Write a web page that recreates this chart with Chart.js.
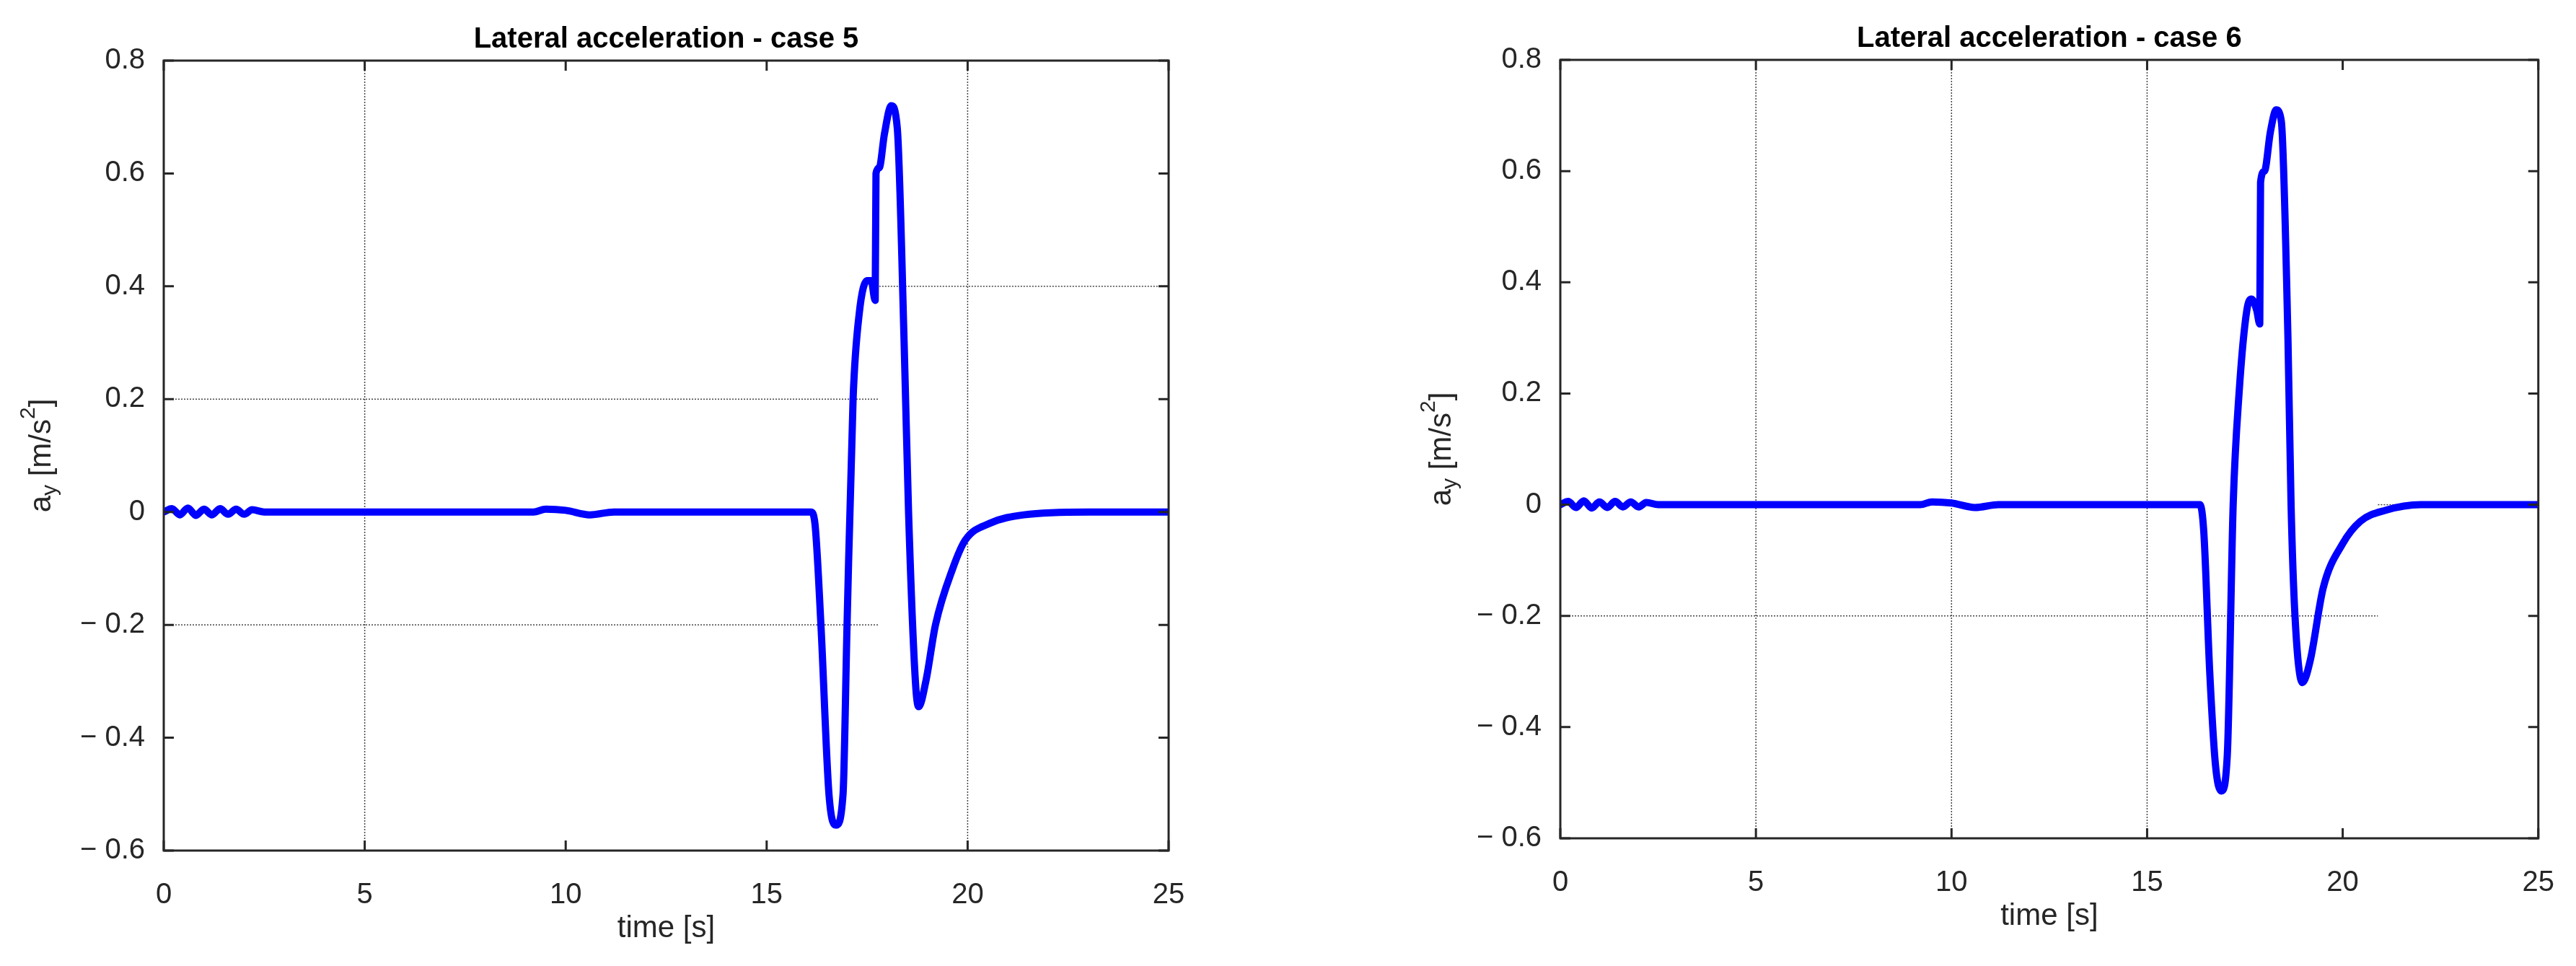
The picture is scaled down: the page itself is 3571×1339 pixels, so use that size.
<!DOCTYPE html>
<html>
<head>
<meta charset="utf-8">
<script src="https://cdn.jsdelivr.net/npm/chart.js@4.4.1/dist/chart.umd.min.js"></script>
<style>
  body { margin: 0; background: #fff; }
  .box { position: absolute; top: 0; height: 1339px; }
</style>
</head>
<body>
<div class="box" style="left:0;width:1800px"><canvas id="c5"></canvas></div>
<div class="box" style="left:1800px;width:1771px"><canvas id="c6"></canvas></div>
<script>
// case 5 samples: time [s], a_y [m/s^2]
const time5 = [0, 0.2, 0.4, 0.6, 0.8, 1.0, 1.2, 1.4, 1.6, 1.8, 2.0, 2.2, 2.5, 5, 9.2, 9.5, 10, 10.6, 11.2, 16.1, 16.2, 16.35, 16.55, 16.73, 16.9, 17.0, 17.15, 17.3, 17.5, 17.6, 17.7, 17.72, 17.8, 17.93, 18.1, 18.25, 18.42, 18.53, 18.7, 18.78, 18.96, 19.2, 19.63, 19.94, 20.55, 21.4, 23, 25];
const accel5 = [0, 0.006, -0.005, 0.007, -0.006, 0.005, -0.005, 0.006, -0.004, 0.005, -0.004, 0.004, 0, 0, 0, 0.005, 0.003, -0.005, 0, 0, -0.02, -0.2, -0.5, -0.555, -0.5, -0.2, 0.2, 0.35, 0.41, 0.41, 0.375, 0.6, 0.61, 0.67, 0.72, 0.68, 0.3, 0, -0.3, -0.345, -0.3, -0.2, -0.1, -0.05, -0.02, -0.005, 0, 0];
// case 6 samples
const time6 = [0, 0.2, 0.4, 0.6, 0.8, 1.0, 1.2, 1.4, 1.6, 1.8, 2.0, 2.2, 2.5, 5, 9.2, 9.5, 10, 10.6, 11.2, 16.35, 16.45, 16.6, 16.75, 16.9, 17.05, 17.2, 17.35, 17.55, 17.67, 17.8, 17.88, 17.9, 18.0, 18.15, 18.3, 18.43, 18.6, 18.68, 18.78, 18.97, 19.17, 19.5, 20.0, 20.45, 21.1, 22, 25];
const accel6 = [0, 0.006, -0.005, 0.007, -0.006, 0.005, -0.005, 0.006, -0.004, 0.005, -0.004, 0.004, 0, 0, 0, 0.005, 0.003, -0.005, 0, 0, -0.05, -0.3, -0.47, -0.515, -0.45, 0, 0.2, 0.35, 0.37, 0.35, 0.325, 0.58, 0.6, 0.67, 0.71, 0.69, 0.3, 0, -0.2, -0.32, -0.28, -0.15, -0.07, -0.03, -0.01, 0, 0];

const xTicks = [0, 5, 10, 15, 20, 25];
const yTicks = [-0.6, -0.4, -0.2, 0, 0.2, 0.4, 0.6, 0.8];

// partial grid segments as they appear in the figure: [x1, y1, x2, y2]
const grid5 = [[5, -0.6, 5, 0.8], [20, -0.6, 20, 0.8], [0, 0.2, 17.8, 0.2], [0, -0.2, 17.8, -0.2], [17.8, 0.4, 25, 0.4]];
const grid6 = [[5, -0.6, 5, 0.8], [10, -0.6, 10, 0.8], [15, -0.6, 15, 0.8], [0, -0.2, 20.9, -0.2], [20.9, 0, 25, 0]];

const FONT = '"Liberation Sans Narrow", "Liberation Sans", Arial, sans-serif';
const INK = '#262626';

function fmt(v) {
  if (Math.abs(v) < 1e-9) return '0';
  const s = Math.abs(v).toFixed(1);
  return v < 0 ? '\u2212 ' + s : s;
}

const matlabAxes = {
  id: 'matlabAxes',
  beforeDatasetsDraw(chart, args, opts) {
    const { ctx, chartArea: a, scales: { x, y } } = chart;
    ctx.save();
    ctx.strokeStyle = '#444';
    ctx.lineWidth = 1.5;
    ctx.setLineDash([2, 2]);
    opts.grid.forEach(g => {
      ctx.beginPath();
      ctx.moveTo(x.getPixelForValue(g[0]), y.getPixelForValue(g[1]));
      ctx.lineTo(x.getPixelForValue(g[2]), y.getPixelForValue(g[3]));
      ctx.stroke();
    });
    ctx.restore();
  },
  afterDatasetsDraw(chart, args, opts) {
    const { ctx, chartArea: a, scales: { x, y } } = chart;
    ctx.save();
    ctx.strokeStyle = INK;
    ctx.lineWidth = 3;
    ctx.strokeRect(a.left, a.top, a.right - a.left, a.bottom - a.top);
    const t = 14;
    ctx.beginPath();
    xTicks.forEach(v => {
      const px = x.getPixelForValue(v);
      ctx.moveTo(px, a.bottom); ctx.lineTo(px, a.bottom - t);
      ctx.moveTo(px, a.top); ctx.lineTo(px, a.top + t);
    });
    yTicks.forEach(v => {
      const py = y.getPixelForValue(v);
      ctx.moveTo(a.left, py); ctx.lineTo(a.left + t, py);
      ctx.moveTo(a.right, py); ctx.lineTo(a.right - t, py);
    });
    ctx.stroke();

    // title
    ctx.fillStyle = '#000';
    ctx.font = 'bold 40px "Liberation Sans Narrow", Arial, sans-serif';
    ctx.textAlign = 'center';
    ctx.textBaseline = 'alphabetic';
    ctx.fillText(opts.title, (a.left + a.right) / 2, a.top - 18);

    // x title
    ctx.fillStyle = INK;
    ctx.font = '42px ' + FONT;
    ctx.textBaseline = 'middle';
    ctx.fillText('time [s]', (a.left + a.right) / 2, a.bottom + 108);

    // y title with sub/superscript
    ctx.translate(opts.yTitleX, (a.top + a.bottom) / 2);
    ctx.rotate(-Math.PI / 2);
    const parts = [['a', 42, 0], ['y', 30, 12], [' [m/s', 42, 0], ['2', 30, -18], [']', 42, 0]];
    let w = 0;
    parts.forEach(p => { ctx.font = p[1] + 'px ' + FONT; w += ctx.measureText(p[0]).width; });
    let cx = -w / 2;
    ctx.textAlign = 'left';
    parts.forEach(p => {
      ctx.font = p[1] + 'px ' + FONT;
      ctx.fillText(p[0], cx, p[2]);
      cx += ctx.measureText(p[0]).width;
    });
    ctx.restore();
  }
};

function makeChart(id, times, values, grid, title, layout) {
  const pts = times.map((t, i) => ({ x: t, y: values[i] }));
  return new Chart(document.getElementById(id), {
    type: 'line',
    data: {
      datasets: [{
        data: pts,
        borderColor: '#0000ff',
        borderWidth: 10,
        pointRadius: 0,
        cubicInterpolationMode: 'monotone',
        borderJoinStyle: 'round',
        borderCapStyle: 'round'
      }]
    },
    options: {
      responsive: true,
      maintainAspectRatio: false,
      animation: false,
      layout: { padding: { top: layout.top, right: layout.right, left: 0, bottom: 0 } },
      plugins: {
        legend: { display: false },
        tooltip: { enabled: false },
        matlabAxes: { grid: grid, title: title, yTitleX: layout.yTitleX }
      },
      scales: {
        x: {
          type: 'linear', min: 0, max: 25,
          afterBuildTicks: s => { s.ticks = xTicks.map(v => ({ value: v })); },
          afterFit: s => { s.height = layout.xh; },
          grid: { display: false },
          border: { display: false },
          ticks: { color: INK, font: { size: 40, family: FONT }, padding: 30, callback: v => String(v) }
        },
        y: {
          type: 'linear', min: -0.6, max: 0.8,
          afterBuildTicks: s => { s.ticks = yTicks.map(v => ({ value: v })); },
          afterFit: s => { s.width = layout.yw; },
          grid: { display: false },
          border: { display: false },
          ticks: { color: INK, font: { size: 40, family: FONT }, padding: 18, callback: v => fmt(v) }
        }
      }
    },
    plugins: [matlabAxes]
  });
}

makeChart('c5', time5, accel5, grid5, 'Lateral acceleration - case 5',
  { top: 84, right: 180, xh: 160, yw: 227, yTitleX: 58 });
makeChart('c6', time6, accel6, grid6, 'Lateral acceleration - case 6',
  { top: 83, right: 34, xh: 177, yw: 363, yTitleX: 199 });
</script>
</body>
</html>
